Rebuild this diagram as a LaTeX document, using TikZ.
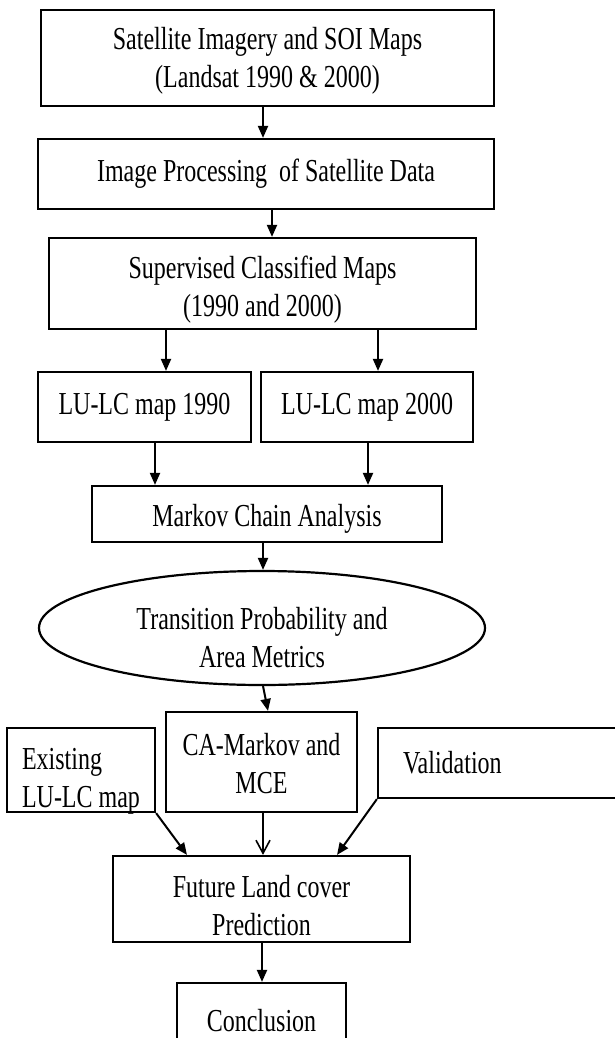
\documentclass[tikz,border=0pt]{standalone}
\usepackage{fontspec}
\setmainfont{Liberation Serif}[FakeStretch=0.75]
\usetikzlibrary{shapes.geometric,arrows.meta}

\begin{document}
\begin{tikzpicture}[x=1pt,y=-1pt,
        box/.style={draw,line width=2.2pt,inner sep=2pt,align=center,font=\fontsize{32}{38}\selectfont},
        lift/.style={text height=#1,text depth=0pt},
        arr/.style={line width=2pt,-{Triangle[length=12pt,width=10pt]}}]
        \useasboundingbox (0,0) rectangle (614,1038);

        \node[box,lift=60pt,minimum width=453,minimum height=96] (sat) at (267.5,58) {Satellite Imagery and SOI Maps\\(Landsat 1990 \& 2000)};
        \node[box,minimum width=456,minimum height=70] (proc) at (266,174) {Image Processing~ of Satellite Data};
        \node[box,lift=65pt,minimum width=427,minimum height=91] (sup) at (262.5,283.5) {Supervised Classified Maps\\(1990 and 2000)};
        \node[box,minimum width=213,minimum height=70] (lc90) at (144.5,407) {LU-LC map 1990};
        \node[box,minimum width=212,minimum height=70] (lc00) at (367,407) {LU-LC map 2000};
        \node[box,lift=24pt,minimum width=350,minimum height=56] (markov) at (267,514) {Markov Chain Analysis};
        \node[box,lift=78pt,ellipse,inner sep=0pt,minimum width=446,minimum height=114] (prob) at (262,628) {Transition Probability and\\Area Metrics};
        \node[box,lift=62pt,minimum width=191,minimum height=100] (ca) at (261.5,762) {CA-Markov and\\MCE};
        \node[box,lift=74pt,align=left,minimum width=148,minimum height=84] (exist) at (81,770) {Existing\\LU-LC map};
        \node[box,align=left,inner xsep=25pt,text width=212pt,minimum height=70] (valid) at (509,763) {Validation};
        \node[box,lift=72pt,minimum width=297,minimum height=86] (future) at (261.5,899) {Future Land cover\\Prediction};
        \node[box,minimum width=169,minimum height=76] (concl) at (261.5,1021) {Conclusion};

        \foreach \a/\sa/\b/\sb in {sat/-4.5/proc/-3, proc/6/sup/9.5, sup/-96.5/lc90/21.5, sup/115.5/lc00/11,
                lc90/10.5/markov/-112, lc00/1/markov/101, markov/-4/prob/1, prob/1/ca/6.5, future/0.5/concl/0.5}
            \draw[arr] ([xshift=\sa pt]\a.south) -- ([xshift=\sb pt]\b.north);

        \draw[arr] (exist.south east) -- ([xshift=-74.5pt]future.north);
        \draw[line width=1.6pt,-{Straight Barb[length=13pt,width=14pt]}] ([xshift=1.5pt]ca.south) -- ([xshift=1.5pt]future.north);
        \draw[arr] (valid.south west) -- ([xshift=75.5pt]future.north);
\end{tikzpicture}
\end{document}
